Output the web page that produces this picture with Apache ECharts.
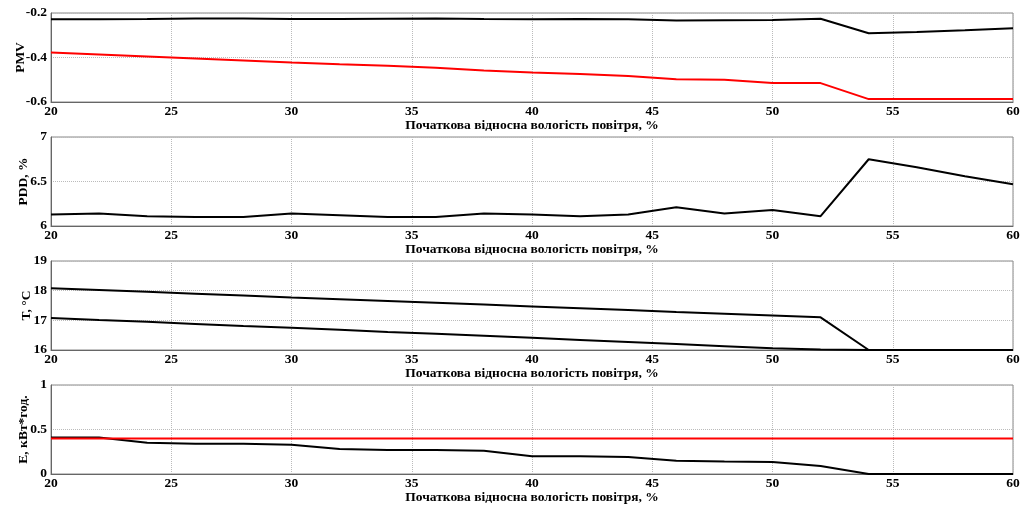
<!DOCTYPE html>
<html>
<head>
<meta charset="utf-8">
<script src="https://cdn.jsdelivr.net/npm/echarts@6/dist/echarts.min.js"></script>
<style>html,body{margin:0;padding:0;background:#fff}#c{width:1022px;height:505px}</style>
</head>
<body>
<div id="c"></div>
<script>
const humidity = [20,22,24,26,28,30,32,34,36,38,40,42,44,46,48,50,52,54,56,58,60];
const pmvBlack = [-0.228,-0.228,-0.227,-0.225,-0.225,-0.227,-0.227,-0.226,-0.225,-0.227,-0.228,-0.227,-0.228,-0.234,-0.233,-0.232,-0.226,-0.291,-0.285,-0.277,-0.268];
const pmvRed = [-0.377,-0.386,-0.395,-0.404,-0.413,-0.422,-0.430,-0.437,-0.446,-0.458,-0.467,-0.474,-0.483,-0.498,-0.500,-0.515,-0.515,-0.587,-0.587,-0.587,-0.587];
const pdd = [6.13,6.14,6.11,6.10,6.10,6.14,6.12,6.10,6.10,6.14,6.13,6.11,6.13,6.21,6.14,6.18,6.11,6.75,6.66,6.56,6.47];
const tUpper = [18.08,18.02,17.96,17.90,17.84,17.77,17.71,17.65,17.59,17.53,17.47,17.41,17.35,17.28,17.22,17.16,17.10,16.0,16.0,16.0,16.0];
const tLower = [17.08,17.01,16.95,16.88,16.81,16.75,16.68,16.61,16.55,16.48,16.41,16.34,16.27,16.20,16.13,16.06,16.02,16.0,16.0,16.0,16.0];
const eRed = [0.40,0.40,0.40,0.40,0.40,0.40,0.40,0.40,0.40,0.40,0.40,0.40,0.40,0.40,0.40,0.40,0.40,0.40,0.40,0.40,0.40];
const eBlack = [0.41,0.41,0.35,0.34,0.34,0.33,0.28,0.27,0.27,0.26,0.20,0.20,0.19,0.15,0.14,0.135,0.09,0,0,0,0];
const xName = 'Початкова відносна вологість повітря, %';
const yNames = ['PMV','PDD, %','T, °C','E, кВт*год.'];
const yMin = [-0.6,6,16,0];
const yMax = [-0.2,7,19,1];
const yStep = [0.2,0.5,1,0.5];

const font = {fontFamily:'"Liberation Serif", "DejaVu Serif", serif', fontWeight:'bold', fontSize:13.5, color:'#000'};
const tops = [13,137,261,385];
const nameGaps = [23,20,17,20];
const grids = tops.map(t => ({left:51, right:9, top:t, height:89, show:true, borderColor:'#888', borderWidth:1, backgroundColor:'transparent', containLabel:false, outerBoundsMode:'none'}));
const xAxes = tops.map((t,i) => ({
  type:'value', gridIndex:i, min:20, max:60, interval:5,
  name:xName, nameLocation:'middle', nameGap:17, nameTextStyle:font, nameMoveOverlap:false,
  axisLabel:Object.assign({margin:3}, font),
  axisLine:{lineStyle:{color:'#666'}}, axisTick:{show:false},
  splitLine:{show:true, lineStyle:{color:'#bbb', type:'dotted'}}
}));
const yAxes = tops.map((t,i) => ({
  type:'value', gridIndex:i, min:yMin[i], max:yMax[i], interval:yStep[i],
  name:yNames[i], nameLocation:'middle', nameGap:nameGaps[i], nameRotate:90, nameTextStyle:font, nameMoveOverlap:false,
  axisLabel:Object.assign({margin:4}, font),
  axisLine:{show:true, lineStyle:{color:'#666'}}, axisTick:{show:false},
  splitLine:{show:true, lineStyle:{color:'#bbb', type:'dotted'}}
}));
function ser(idx, ys, color){
  return {type:'line', xAxisIndex:idx, yAxisIndex:idx, data:humidity.map((x,k)=>[x,ys[k]]),
    showSymbol:false, lineStyle:{color:color, width:2}, itemStyle:{color:color}, animation:false, z:3};
}
const chart = echarts.init(document.getElementById('c'), null, {renderer:'canvas'});
chart.setOption({
  backgroundColor:'#fff', animation:false,
  grid:grids, xAxis:xAxes, yAxis:yAxes,
  series:[
    ser(0,pmvBlack,'#000'), ser(0,pmvRed,'#ff0000'),
    ser(1,pdd,'#000'),
    ser(2,tUpper,'#000'), ser(2,tLower,'#000'),
    ser(3,eBlack,'#000'), ser(3,eRed,'#ff0000')
  ]
});
</script>
</body>
</html>
